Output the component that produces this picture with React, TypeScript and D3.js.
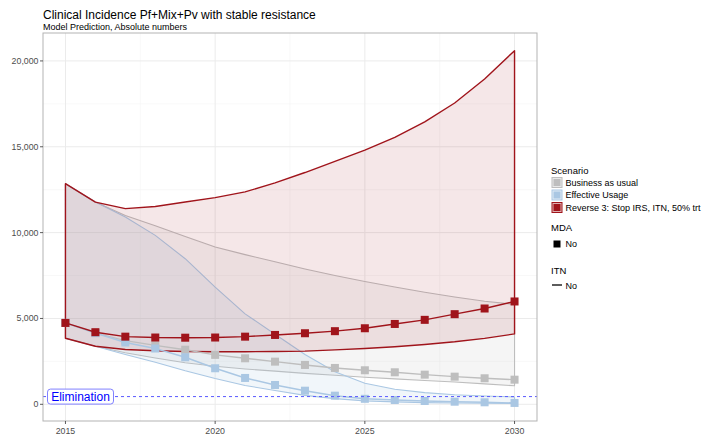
import React, { useEffect, useRef } from "react";
import * as d3 from "d3";

// Projection years
const years = [2015, 2016, 2017, 2018, 2019, 2020, 2021, 2022, 2023, 2024, 2025, 2026, 2027, 2028, 2029, 2030];

// Business as usual
const bauMedian = [4740, 4150, 3710, 3430, 3180, 2880, 2680, 2485, 2293, 2118, 1983, 1866, 1727, 1610, 1517, 1435];
const bauLower = [3850, 3380, 3000, 2700, 2420, 2220, 2060, 1930, 1800, 1690, 1580, 1480, 1390, 1300, 1190, 1080];
const bauUpper = [12850, 11780, 11000, 10400, 9780, 9160, 8720, 8300, 7880, 7500, 7150, 6830, 6530, 6250, 6000, 5820];

// Effective Usage
const effMedian = [4740, 4150, 3600, 3250, 2740, 2100, 1535, 1126, 793, 502, 320, 250, 192, 152, 117, 80];
const effLower = [3850, 3380, 2900, 2450, 1950, 1500, 1100, 800, 520, 330, 200, 140, 100, 80, 65, 55];
const effUpper = [12850, 11780, 10910, 9840, 8480, 6830, 5270, 4080, 2900, 1900, 1230, 880, 680, 560, 480, 430];

// Reverse 3: Stop IRS, ITN, 50% trt
const revMedian = [4740, 4200, 3940, 3890, 3880, 3890, 3940, 4040, 4140, 4260, 4430, 4680, 4920, 5250, 5580, 5990];
const revLower = [3850, 3380, 3190, 3120, 3080, 3060, 3060, 3080, 3100, 3170, 3250, 3350, 3480, 3640, 3840, 4100];
const revUpper = [12850, 11780, 11400, 11520, 11780, 12040, 12370, 12900, 13500, 14150, 14800, 15550, 16450, 17550, 18950, 20600];

const scenarioNames = ["Business as usual", "Effective Usage", "Reverse 3: Stop IRS, ITN, 50% trt"];
const scenarioColors = ["#bebebe", "#aac7e3", "#a0141b"];

const eliminationLevel = 450;
const yTicks = [0, 5000, 10000, 15000, 20000];
const yMinor = [2500, 7500, 12500, 17500];
const xTicks = [2015, 2020, 2025, 2030];
const xMinor = [2017.5, 2022.5, 2027.5];

const W = 721;
const H = 437;
const FONT = "'Liberation Sans', Arial, Helvetica, sans-serif";

export default function App() {
  const ref = useRef<SVGSVGElement | null>(null);

  useEffect(() => {
    const svg = d3.select(ref.current);
    svg.selectAll("*").remove();

    const panel = { left: 43, right: 537, top: 33, bottom: 421 };

    const scenarios = [
      { name: scenarioNames[0], color: scenarioColors[0], med: bauMedian, lo: bauLower, hi: bauUpper },
      { name: scenarioNames[1], color: scenarioColors[1], med: effMedian, lo: effLower, hi: effUpper },
      { name: scenarioNames[2], color: scenarioColors[2], med: revMedian, lo: revLower, hi: revUpper },
    ];

    const allVals = scenarios.flatMap((s) => [...s.med, ...s.lo, ...s.hi]);
    const vMin = d3.min(allVals) as number;
    const vMax = d3.max(allVals) as number;
    const pad = (vMax - vMin) * 0.05;
    const x = d3.scaleLinear().domain([2014.25, 2030.75]).range([panel.left, panel.right]);
    const y = d3.scaleLinear().domain([vMin - pad, vMax + pad]).range([panel.bottom, panel.top]);

    // Title
    svg.append("text").attr("x", 43).attr("y", 19).attr("font-family", FONT).attr("font-size", 12).attr("fill", "#000")
      .text("Clinical Incidence Pf+Mix+Pv with stable resistance");
    svg.append("text").attr("x", 43).attr("y", 30).attr("font-family", FONT).attr("font-size", 9).attr("fill", "#000")
      .text("Model Prediction, Absolute numbers");

    // Panel background + grid
    svg.append("rect").attr("x", panel.left).attr("y", panel.top)
      .attr("width", panel.right - panel.left).attr("height", panel.bottom - panel.top).attr("fill", "#fff");

    const grid = svg.append("g");
    yMinor.forEach((v) => grid.append("line").attr("x1", panel.left).attr("x2", panel.right)
      .attr("y1", y(v)).attr("y2", y(v)).attr("stroke", "#f4f4f4").attr("stroke-width", 0.6));
    xMinor.forEach((v) => grid.append("line").attr("y1", panel.top).attr("y2", panel.bottom)
      .attr("x1", x(v)).attr("x2", x(v)).attr("stroke", "#f4f4f4").attr("stroke-width", 0.6));
    yTicks.forEach((v) => grid.append("line").attr("x1", panel.left).attr("x2", panel.right)
      .attr("y1", y(v)).attr("y2", y(v)).attr("stroke", "#ebebeb").attr("stroke-width", 1));
    xTicks.forEach((v) => grid.append("line").attr("y1", panel.top).attr("y2", panel.bottom)
      .attr("x1", x(v)).attr("x2", x(v)).attr("stroke", "#ebebeb").attr("stroke-width", 1));

    // Ribbons (closed polygons)
    const poly = (s: typeof scenarios[0]) => {
      const pts: [number, number][] = [];
      years.forEach((yr, i) => pts.push([x(yr), y(s.hi[i])]));
      for (let i = years.length - 1; i >= 0; i--) pts.push([x(years[i]), y(s.lo[i])]);
      return "M" + pts.map((p) => p.join(",")).join("L") + "Z";
    };
    const fillAlpha = [0.15, 0.16, 0.1];
    const outlineW = [1.1, 1.1, 1.4];
    scenarios.forEach((s, k) => {
      svg.append("path").attr("d", poly(s)).attr("fill", s.color).attr("fill-opacity", fillAlpha[k])
        .attr("stroke", s.color).attr("stroke-width", outlineW[k]).attr("stroke-linejoin", "round");
    });

    // Median lines with square markers
    const line = d3.line<number>().x((_, i) => x(years[i])).y((v) => y(v));
    scenarios.forEach((s) => {
      svg.append("path").attr("d", line(s.med) as string).attr("fill", "none")
        .attr("stroke", s.color).attr("stroke-width", 1.4);
      const sz = 8;
      svg.append("g").selectAll("rect").data(s.med).enter().append("rect")
        .attr("x", (_, i) => x(years[i]) - sz / 2).attr("y", (v) => y(v) - sz / 2)
        .attr("width", sz).attr("height", sz).attr("fill", s.color);
    });

    // Elimination threshold
    svg.append("line").attr("x1", panel.left).attr("x2", panel.right)
      .attr("y1", y(eliminationLevel)).attr("y2", y(eliminationLevel))
      .attr("stroke", "#5a5aff").attr("stroke-width", 1).attr("stroke-dasharray", "3,3");
    const ey = y(eliminationLevel);
    svg.append("rect").attr("x", 47.5).attr("y", ey - 7.5).attr("width", 66).attr("height", 15)
      .attr("rx", 3).attr("fill", "#fff").attr("stroke", "#8080ff").attr("stroke-width", 1);
    svg.append("text").attr("x", 80.5).attr("y", ey + 4.2).attr("text-anchor", "middle")
      .attr("font-family", FONT).attr("font-size", 12).attr("fill", "#0000ff").text("Elimination");

    // Panel border
    svg.append("rect").attr("x", panel.left).attr("y", panel.top)
      .attr("width", panel.right - panel.left).attr("height", panel.bottom - panel.top)
      .attr("fill", "none").attr("stroke", "#b3b3b3").attr("stroke-width", 1);

    // Axes
    const fmt = d3.format(",");
    yTicks.forEach((v) => {
      svg.append("line").attr("x1", panel.left - 3).attr("x2", panel.left).attr("y1", y(v)).attr("y2", y(v))
        .attr("stroke", "#333").attr("stroke-width", 0.8);
      svg.append("text").attr("x", panel.left - 4.5).attr("y", y(v) + 3).attr("text-anchor", "end")
        .attr("font-family", FONT).attr("font-size", 8.8).attr("fill", "#4d4d4d").text(fmt(v));
    });
    xTicks.forEach((v) => {
      svg.append("line").attr("x1", x(v)).attr("x2", x(v)).attr("y1", panel.bottom).attr("y2", panel.bottom + 3)
        .attr("stroke", "#333").attr("stroke-width", 0.8);
      svg.append("text").attr("x", x(v)).attr("y", panel.bottom + 12.5).attr("text-anchor", "middle")
        .attr("font-family", FONT).attr("font-size", 8.8).attr("fill", "#4d4d4d").text(String(v));
    });

    // Legend
    const lg = svg.append("g").attr("font-family", FONT).attr("fill", "#000");
    const lx = 551;
    lg.append("text").attr("x", lx).attr("y", 174).attr("font-size", 9.5).text("Scenario");
    scenarios.forEach((s, k) => {
      const cy = 182.5 + k * 12.5;
      lg.append("rect").attr("x", lx + 1).attr("y", cy - 5).attr("width", 10).attr("height", 10)
        .attr("fill", s.color).attr("fill-opacity", 0.35).attr("stroke", s.color).attr("stroke-width", 1);
      lg.append("rect").attr("x", lx + 2.5).attr("y", cy - 3.5).attr("width", 7).attr("height", 7).attr("fill", s.color);
      lg.append("text").attr("x", lx + 14.5).attr("y", cy + 3.2).attr("font-size", 9).text(s.name);
    });
    lg.append("text").attr("x", lx).attr("y", 231).attr("font-size", 9.5).text("MDA");
    lg.append("rect").attr("x", lx + 2.5).attr("y", 240.5).attr("width", 7).attr("height", 7).attr("fill", "#000");
    lg.append("text").attr("x", lx + 14.5).attr("y", 247.3).attr("font-size", 9).text("No");
    lg.append("text").attr("x", lx).attr("y", 274).attr("font-size", 9.5).text("ITN");
    lg.append("line").attr("x1", lx + 1).attr("x2", lx + 11).attr("y1", 285).attr("y2", 285)
      .attr("stroke", "#333").attr("stroke-width", 1.6);
    lg.append("text").attr("x", lx + 14.5).attr("y", 288.5).attr("font-size", 9).text("No");
  }, []);

  return (
    <svg ref={ref} width={W} height={H} style={{ position: "absolute", left: 0, top: 0, background: "#fff" }} />
  );
}
